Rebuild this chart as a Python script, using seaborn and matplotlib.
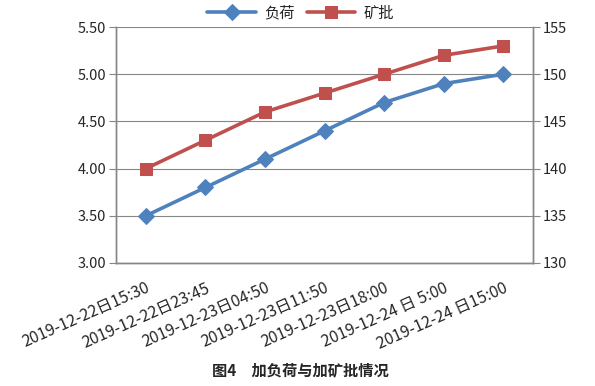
import pandas as pd
import matplotlib.pyplot as plt
import seaborn as sns

sns.set_style("white")
plt.rcParams['font.family'] = ['Noto Sans CJK SC', 'DejaVu Sans']

# data
times = ['2019-12-22日15:30', '2019-12-22日23:45', '2019-12-23日04:50',
         '2019-12-23日11:50', '2019-12-23日18:00', '2019-12-24 日 5:00',
         '2019-12-24 日15:00']
load = [3.5, 3.8, 4.1, 4.4, 4.7, 4.9, 5.0]
ore_batch = [140, 143, 146, 148, 150, 152, 153]

df = pd.DataFrame({'idx': range(len(times)), 'load': load, 'ore': ore_batch})

blue = '#4F81BD'
red = '#C0504D'
grey = '#868686'

fig = plt.figure(figsize=(5.95, 3.86), dpi=100)
ax = fig.add_axes([0.195, 0.3187, 0.701, 0.6113])
ax2 = ax.twinx()

sns.lineplot(data=df, x='idx', y='load', ax=ax, color=blue, linewidth=2.6,
             marker='D', markersize=8, markeredgecolor=blue, label='负荷', legend=False)
sns.lineplot(data=df, x='idx', y='ore', ax=ax2, color=red, linewidth=2.6,
             marker='s', markersize=9, markeredgecolor=red, label='矿批', legend=False)

ax.set_xlim(-0.5, len(times) - 0.5)
ax.set_ylim(3.0, 5.5)
ax2.set_ylim(130, 155)
ax.set_yticks([3.0, 3.5, 4.0, 4.5, 5.0, 5.5])
ax.set_yticklabels([f'{v:.2f}' for v in ax.get_yticks()])
ax2.set_yticks(range(130, 156, 5))

ax.yaxis.grid(True, color=grey, linewidth=0.8)
ax.set_axisbelow(True)
ax.set_xticks(range(len(times)))
ax.set_xticklabels(times, rotation=24, ha='right', rotation_mode='anchor', fontsize=11.5)
ax.tick_params(axis='x', length=0, pad=12)
# category boundary ticks
ax.set_xticks([i - 0.5 for i in range(len(times) + 1)], minor=True)
ax.tick_params(axis='x', which='minor', length=5, color=grey, direction='out')
ax.tick_params(axis='y', length=5, color=grey, labelsize=10.5, pad=2)
ax2.tick_params(axis='y', length=5, color=grey, labelsize=10.5, pad=2)
ax.set_xlabel('')
ax.set_ylabel('')
ax2.set_ylabel('')

for a in (ax, ax2):
    for s in ['left', 'right', 'bottom']:
        a.spines[s].set_color(grey)
        a.spines[s].set_linewidth(1.0)
    a.spines['top'].set_visible(False)

h1, l1 = ax.get_legend_handles_labels()
h2, l2 = ax2.get_legend_handles_labels()
fig.legend(h1 + h2, l1 + l2, loc='center', bbox_to_anchor=(0.505, 0.966), ncol=2,
           frameon=False, fontsize=11, handlelength=3.2, columnspacing=0.8,
           handletextpad=0.5)

fig.text(0.505, 0.041, '图4　加负荷与加矿批情况', ha='center', va='center',
         fontsize=11, fontweight='bold')

fig.savefig('out.png', dpi=100)
